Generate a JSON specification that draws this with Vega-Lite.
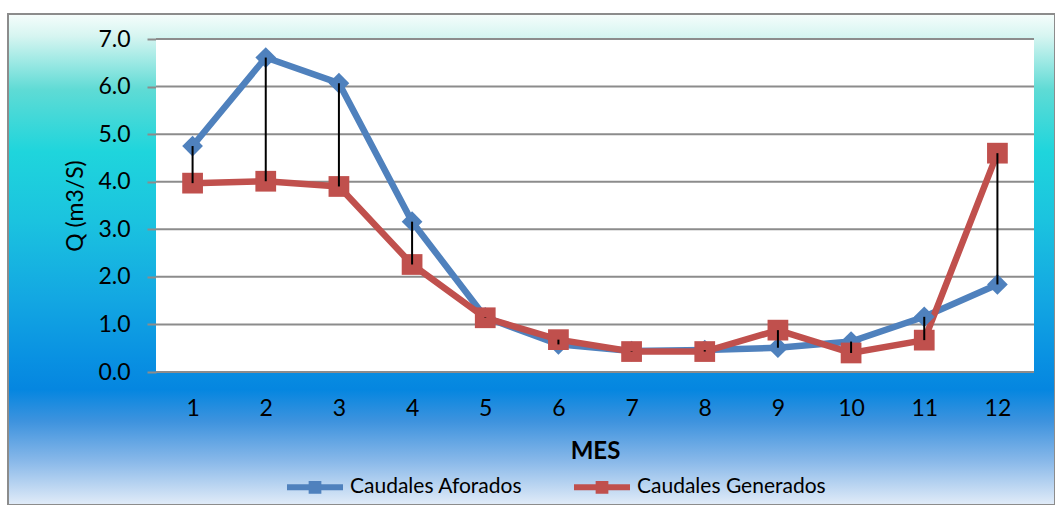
{
  "$schema": "https://vega.github.io/schema/vega-lite/v6.json",
  "width": 1047,
  "height": 491,
  "autosize": {"type": "none"},
  "padding": {"left": 8, "top": 14, "right": 0, "bottom": 0},
  "background": "white",
  "view": {
    "stroke": "#8c8c8c",
    "strokeWidth": 2,
    "fill": {
      "gradient": "linear",
      "x1": 0, "y1": 0, "x2": 0, "y2": 1,
      "stops": [
        {"offset": 0, "color": "#F6FDFC"},
        {"offset": 0.045, "color": "#D6F5F1"},
        {"offset": 0.155, "color": "#5EDBD5"},
        {"offset": 0.28, "color": "#1FD5DC"},
        {"offset": 0.42, "color": "#1BC3DF"},
        {"offset": 0.58, "color": "#13A7E2"},
        {"offset": 0.7, "color": "#0991E2"},
        {"offset": 0.765, "color": "#0586E0"},
        {"offset": 0.83, "color": "#3E93DE"},
        {"offset": 0.91, "color": "#88B8E9"},
        {"offset": 1, "color": "#E2ECF8"}
      ]
    }
  },
  "config": {
    "font": "Lato",
    "axis": {"labelColor": "black", "titleColor": "black", "labelFont": "Lato", "titleFont": "Lato"},
    "legend": {"labelFont": "Lato", "labelColor": "black"}
  },
  "resolve": {"legend": {"color": "independent"}},
  "datasets": {
    "caudales": [
      {"mes": 1, "Caudales Aforados": 4.75, "Caudales Generados": 3.97},
      {"mes": 2, "Caudales Aforados": 6.61, "Caudales Generados": 4.01},
      {"mes": 3, "Caudales Aforados": 6.07, "Caudales Generados": 3.9},
      {"mes": 4, "Caudales Aforados": 3.16, "Caudales Generados": 2.26},
      {"mes": 5, "Caudales Aforados": 1.15, "Caudales Generados": 1.14},
      {"mes": 6, "Caudales Aforados": 0.58, "Caudales Generados": 0.68},
      {"mes": 7, "Caudales Aforados": 0.44, "Caudales Generados": 0.43},
      {"mes": 8, "Caudales Aforados": 0.46, "Caudales Generados": 0.43},
      {"mes": 9, "Caudales Aforados": 0.51, "Caudales Generados": 0.88},
      {"mes": 10, "Caudales Aforados": 0.64, "Caudales Generados": 0.4},
      {"mes": 11, "Caudales Aforados": 1.16, "Caudales Generados": 0.67},
      {"mes": 12, "Caudales Aforados": 1.84, "Caudales Generados": 4.6}
    ],
    "rejilla": [
      {"q": 0}, {"q": 1}, {"q": 2}, {"q": 3}, {"q": 4}, {"q": 5}, {"q": 6}, {"q": 7}
    ]
  },
  "layer": [
    {
      "data": {"values": [{}]},
      "mark": {"type": "rect", "fill": "white"},
      "encoding": {
        "x": {
          "datum": 0.5, "type": "quantitative",
          "scale": {"domain": [0.5, 12.5], "range": [148, 1026], "nice": false, "zero": false},
          "axis": {
            "title": "MES",
            "values": [1, 2, 3, 4, 5, 6, 7, 8, 9, 10, 11, 12],
            "format": "d",
            "offset": -133,
            "domain": false,
            "ticks": false,
            "tickSize": 0,
            "grid": false,
            "labelPadding": 25,
            "labelFontSize": 23,
            "labelFlush": false,
            "labelOverlap": false,
            "titleFontSize": 24,
            "titleFontWeight": "bold",
            "titlePadding": 19
          }
        },
        "x2": {"datum": 12.5},
        "y": {
          "datum": 0, "type": "quantitative",
          "scale": {"domain": [0, 7], "range": [358, 25], "nice": false, "zero": false},
          "axis": {
            "title": "Q (m3/S)",
            "values": [0, 1, 2, 3, 4, 5, 6, 7],
            "format": ".1f",
            "offset": -148,
            "domain": false,
            "ticks": true,
            "tickSize": 9,
            "tickColor": "#8c8c8c",
            "tickWidth": 2,
            "grid": false,
            "labelPadding": 17,
            "labelFontSize": 23,
            "labelFlush": false,
            "titleFontSize": 23,
            "titleFontWeight": "normal",
            "titlePadding": 10
          }
        },
        "y2": {"datum": 7}
      }
    },
    {
      "data": {"name": "rejilla"},
      "mark": {"type": "rule", "color": "#8c8c8c", "strokeWidth": 2},
      "encoding": {
        "y": {"field": "q", "type": "quantitative"},
        "x": {"datum": 0.5, "type": "quantitative"},
        "x2": {"datum": 12.5}
      }
    },
    {
      "data": {"name": "caudales"},
      "transform": [{"fold": ["Caudales Aforados", "Caudales Generados"], "as": ["serie", "caudal"]}],
      "mark": {"type": "line", "strokeWidth": 6.5},
      "encoding": {
        "x": {"field": "mes", "type": "quantitative"},
        "y": {"field": "caudal", "type": "quantitative"},
        "color": {
          "field": "serie", "type": "nominal",
          "scale": {"domain": ["Caudales Aforados", "Caudales Generados"], "range": ["#4F81BD", "#C0504D"]},
          "legend": {
            "title": null,
            "orient": "none",
            "legendX": 276,
            "legendY": 442,
            "direction": "horizontal",
            "padding": 0,
            "symbolType": "M-1,0H1M-0.12,-0.12H0.12V0.12H-0.12Z",
            "symbolSize": 3136,
            "symbolStrokeWidth": 6,
            "labelFontSize": 21,
            "labelLimit": 0,
            "labelOffset": 4,
            "columnPadding": 39
          }
        }
      }
    },
    {
      "data": {"name": "caudales"},
      "transform": [{"fold": ["Caudales Aforados", "Caudales Generados"], "as": ["serie", "caudal"]}],
      "mark": {"type": "point", "filled": true, "opacity": 1, "size": 430},
      "encoding": {
        "x": {"field": "mes", "type": "quantitative"},
        "y": {"field": "caudal", "type": "quantitative"},
        "shape": {
          "condition": {"test": "datum.serie === 'Caudales Aforados'", "value": "diamond"},
          "value": "square"
        },
        "color": {"field": "serie", "type": "nominal", "legend": null}
      }
    },
    {
      "data": {"name": "caudales"},
      "mark": {"type": "rule", "color": "black", "strokeWidth": 2},
      "encoding": {
        "x": {"field": "mes", "type": "quantitative"},
        "y": {"field": "Caudales Aforados", "type": "quantitative"},
        "y2": {"field": "Caudales Generados"}
      }
    }
  ]
}
